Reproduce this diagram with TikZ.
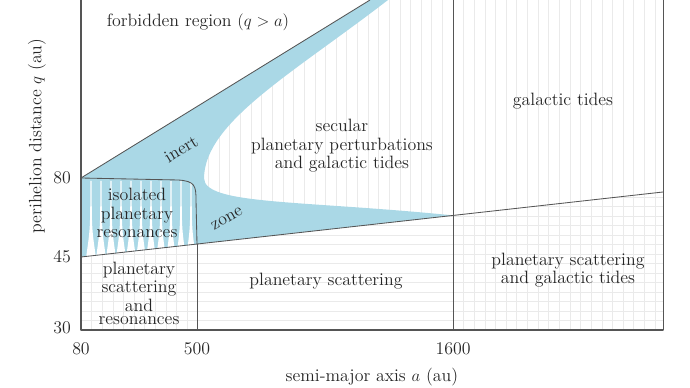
\documentclass[tikz,border=0pt]{standalone}
\usepackage{amsmath}
\definecolor{zoneblue}{RGB}{170,216,230}
\definecolor{linegray}{RGB}{85,85,85}
\definecolor{hatchgray}{RGB}{234,234,234}
\newcommand{\regionfont}{\fontsize{12.7}{13.2}\selectfont}
\tikzset{
  hatch/.style={draw=hatchgray,line width=0.5pt},
  boundary/.style={draw=linegray,line width=0.6pt},
  axisline/.style={draw=linegray,line width=0.9pt},
  regionlabel/.style={align=center,font=\regionfont,text=black!85,inner sep=0pt},
  ticklabel/.style={font=\regionfont,text=black!85,inner sep=0pt}
}
\begin{document}
\begin{tikzpicture}[x=0.25mm,y=-0.25mm,line cap=round,line join=round]
  \useasboundingbox (0,0) rectangle (690,388);
  % corner points of the regions
  \coordinate (o) at (81,330);
  \coordinate (qa80) at (81,178);
  \coordinate (qatop) at (370,0);
  \coordinate (low80) at (81,257);
  \coordinate (low500) at (197,244);
  \coordinate (low1600) at (453,215.4);
  \coordinate (lowend) at (663,192);
  \coordinate (nose) at (204,178);
  % galactic tides (vertical hatch)
  \begin{scope}
    \clip (qa80) -- (qatop) -- (663,0) -- (663,330) -- (453,330) -- (low1600) -- (low500) -- (197,330) -- (o) -- cycle;
    \foreach \i in {1,...,55}{\draw[hatch] (81+10.63*\i,0) -- (81+10.63*\i,330);}
  \end{scope}
  % planetary scattering (horizontal hatch)
  \begin{scope}
    \clip (low80) -- (lowend) -- (663,330) -- (o) -- cycle;
    \foreach \j in {1,...,15}{\draw[hatch] (81,330-9.5*\j) -- (663,330-9.5*\j);}
  \end{scope}
  % inert zone
  \fill[zoneblue] (qa80) -- (qatop) -- (388,0) .. controls (292,74) and (205,122) .. (nose)
    .. controls (204,205) and (300,200) .. (low1600) -- (low80) -- cycle;
  % isolated resonances
  \begin{scope}
    \clip (qa80) -- (178,180) .. controls (195,181) and (196,186) .. (196,200) -- (low500) -- (low80) -- cycle;
    \foreach \x in {91,101,...,191}{
      \fill[white] (\x-0.7,181) .. controls (\x-0.7,228) .. (\x-5,258) -- (\x+5,258) .. controls (\x+0.7,228) .. (\x+0.7,181) -- cycle;}
  \end{scope}
  \draw[boundary] (qa80) -- (178,180) .. controls (195,181) and (196,186) .. (196,200) -- (low500);
  % boundaries
  \draw[boundary] (qa80) -- (qatop);
  \draw[boundary] (low80) -- (lowend);
  \draw[boundary] (low500) -- (197,330);
  \draw[boundary] (453,0) -- (453,330);
  \draw[boundary] (663,0) -- (663,330);
  \draw[axisline] (81,0) -- (o) -- (663,330);
  % region labels
  \node[regionlabel] (forbidden) at (198,22) {forbidden region $(q>a)$};
  \node[regionlabel,rotate=31] (inert) at (181,149) {inert};
  \node[regionlabel,rotate=30] (zone) at (227,219) {zone};
  \node[regionlabel] (secular) at (342,146) {secular\\planetary perturbations\\and galactic tides};
  \node[regionlabel] (tides) at (563,101) {galactic tides};
  \node[regionlabel] (isolated) at (137,213) {isolated\\planetary\\resonances};
  \node[regionlabel] (scatres) at (139,293) {planetary\\scattering\\and\\[-4pt]resonances};
  \node[regionlabel] (scat) at (326,281) {planetary scattering};
  \node[regionlabel] (scattides) at (568,270) {planetary scattering\\and galactic tides};
  % ticks
  \node[ticklabel] (q80) at (62,178) {80};
  \node[ticklabel] (q45) at (62,257) {45};
  \node[ticklabel] (q30) at (62,328) {30};
  \node[ticklabel] (a80) at (81,349) {80};
  \node[ticklabel] (a500) at (197,349) {500};
  \node[ticklabel] (a1600) at (453,349) {1600};
  % axis titles
  \node[ticklabel,rotate=90] (qtitle) at (37,136) {perihelion distance $q$ (au)};
  \node[ticklabel] (atitle) at (372,377) {semi-major axis $a$ (au)};
\end{tikzpicture}
\end{document}
